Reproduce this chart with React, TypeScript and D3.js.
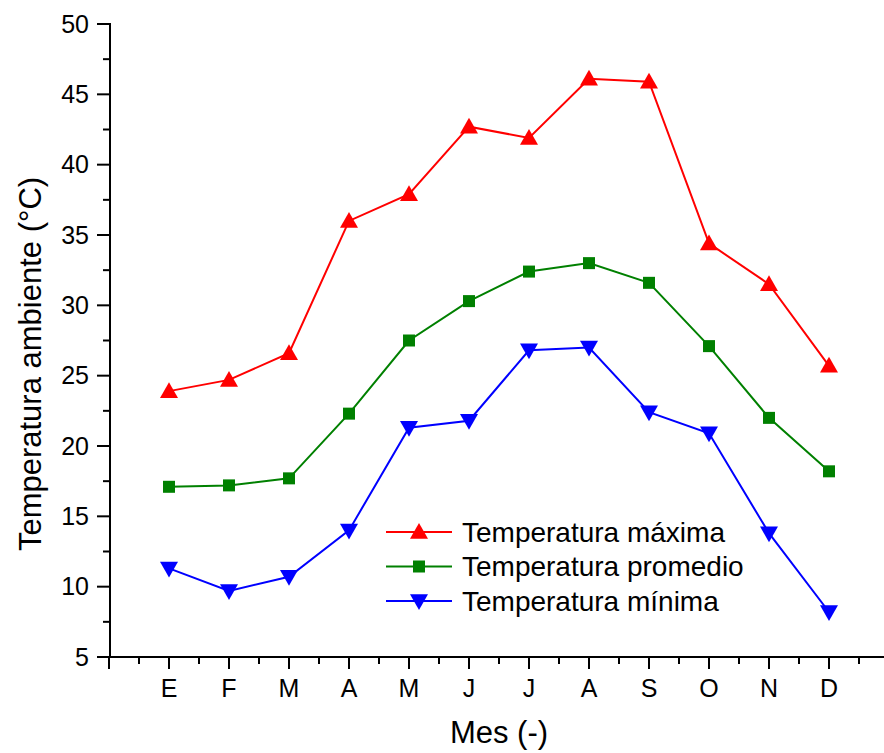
import React from "react";
import * as d3 from "d3";

const months = ["E", "F", "M", "A", "M", "J", "J", "A", "S", "O", "N", "D"];
const tMax = [23.9, 24.7, 26.6, 36.0, 37.9, 42.7, 41.9, 46.1, 45.9, 34.4, 31.5, 25.7];
const tAvg = [17.1, 17.2, 17.7, 22.3, 27.5, 30.3, 32.4, 33.0, 31.6, 27.1, 22.0, 18.2];
const tMin = [11.3, 9.7, 10.7, 14.0, 21.3, 21.8, 26.8, 27.0, 22.4, 20.9, 13.8, 8.2];
const yTicks = [5, 10, 15, 20, 25, 30, 35, 40, 45, 50];
const seriesNames = ["Temperatura máxima", "Temperatura promedio", "Temperatura mínima"];

const W = 884, H = 753;
const x = d3.scaleLinear().domain([0, 13]).range([109, 889]);
const y = d3.scaleLinear().domain([5, 50]).range([657, 24]);
const font = "Liberation Sans, Arial, sans-serif";

function Marker({ kind, cx, cy, color }: { kind: string; cx: number; cy: number; color: string }) {
  if (kind === "up") {
    const s = 9;
    return <path d={`M${cx},${cy - s} L${cx + s},${cy + s * 0.75} L${cx - s},${cy + s * 0.75}Z`} fill={color} />;
  }
  if (kind === "down") {
    const s = 9;
    return <path d={`M${cx},${cy + s} L${cx + s},${cy - s * 0.75} L${cx - s},${cy - s * 0.75}Z`} fill={color} />;
  }
  return <rect x={cx - 6} y={cy - 6} width={12} height={12} fill={color} />;
}

export default function App() {
  const series = [
    { data: tMax, color: "#ff0000", kind: "up" },
    { data: tAvg, color: "#008000", kind: "sq" },
    { data: tMin, color: "#0000ff", kind: "down" },
  ];
  const line = d3.line<number>().x((_, i) => x(i + 1)).y((d) => y(d));
  const minorY = d3.range(7.5, 50, 5);
  const majorX = d3.range(0, 13);
  const minorX = d3.range(0.5, 13, 1);
  return (
    <svg width={W} height={H} style={{ position: "absolute", left: 0, top: 0 }} fontFamily={font}>
      <rect width={W} height={H} fill="#fff" />
      {/* y axis */}
      <line x1={110} x2={110} y1={23} y2={658} stroke="#000" strokeWidth={2} />
      {yTicks.map((t) => (
        <g key={t}>
          <line x1={97} x2={110} y1={y(t)} y2={y(t)} stroke="#000" strokeWidth={2} />
          <text x={89} y={y(t)} dy="0.35em" textAnchor="end" fontSize={25} fill="#000">{t}</text>
        </g>
      ))}
      {minorY.map((t) => (
        <line key={t} x1={103} x2={110} y1={y(t)} y2={y(t)} stroke="#000" strokeWidth={2} />
      ))}
      {/* x axis */}
      <line x1={109} x2={884} y1={657} y2={657} stroke="#000" strokeWidth={2} />
      {majorX.map((t) => (
        <line key={t} x1={x(t)} x2={x(t)} y1={657} y2={669} stroke="#000" strokeWidth={2} />
      ))}
      {minorX.map((t) => (
        <line key={t} x1={x(t)} x2={x(t)} y1={657} y2={664} stroke="#000" strokeWidth={2} />
      ))}
      {months.map((m, i) => (
        <text key={i} x={x(i + 1)} y={697} textAnchor="middle" fontSize={25} fill="#000">{m}</text>
      ))}
      <text x={499} y={743} textAnchor="middle" fontSize={31} fill="#000">Mes (-)</text>
      <text transform={`translate(41,364) rotate(-90)`} textAnchor="middle" fontSize={31} fill="#000">Temperatura ambiente (°C)</text>
      {series.map((s, k) => (
        <g key={k}>
          <path d={line(s.data) || ""} fill="none" stroke={s.color} strokeWidth={2} />
          {s.data.map((v, i) => (
            <Marker key={i} kind={s.kind} cx={x(i + 1)} cy={y(v)} color={s.color} />
          ))}
        </g>
      ))}
      {/* legend */}
      {series.map((s, k) => {
        const ly = 532 + k * 34.5;
        return (
          <g key={k}>
            <line x1={386} x2={452} y1={ly} y2={ly} stroke={s.color} strokeWidth={2} />
            <Marker kind={s.kind} cx={419} cy={ly} color={s.color} />
            <text x={462} y={ly} dy="0.35em" fontSize={28} fill="#000">{seriesNames[k]}</text>
          </g>
        );
      })}
    </svg>
  );
}
